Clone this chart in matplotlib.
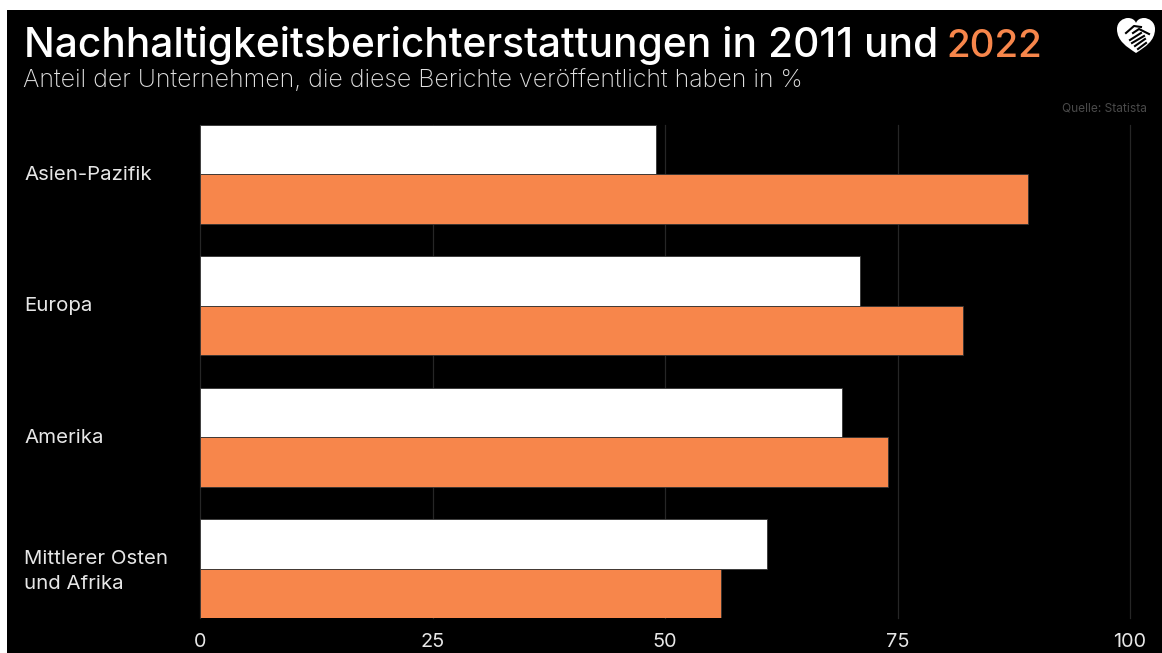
import matplotlib
matplotlib.use('Agg')
import matplotlib.pyplot as plt
from matplotlib.patches import PathPatch, Rectangle
from matplotlib.path import Path
from matplotlib.transforms import Affine2D, blended_transform_factory

regions = ['Asien-Pazifik', 'Europa', 'Amerika', 'Mittlerer Osten\nund Afrika']
values_2011 = [49, 71, 69, 61]
values_2022 = [89, 82, 74, 56]
x_ticks = [0, 25, 50, 75, 100]

W, H = 1162, 653
ORANGE = '#f7864b'
FONT = 'Inter'


def px(x, y):
    # pixel position measured from the top left, as figure fraction
    return x / W, 1 - y / H


def draw_logo(fig):
    cx, cy = 1136, H - 36
    heart = Path(
        [(0, -17), (-9, -11), (-19, -5), (-19, 7), (-19, 14), (-13, 18), (-8, 18),
         (-4, 18), (-1, 16), (0, 13), (1, 16), (4, 18), (8, 18), (13, 18), (19, 14),
         (19, 7), (19, -5), (9, -11), (0, -17), (0, -17)],
        [Path.MOVETO] + [Path.CURVE4] * 18 + [Path.CLOSEPOLY])
    fig.add_artist(PathPatch(heart, facecolor='white', edgecolor='none',
                             transform=Affine2D().translate(cx, cy)))
    # handshake strokes cut out of the heart
    strokes = [[(-10, 3), (-2, 10), (5, 9)], [(-3, 3), (3, 7), (13, 2)],
               [(-6, -4), (5, 3)], [(-4, -7), (8, 0)], [(-1, -10), (9, -3)],
               [(2, -13), (10, -7)]]
    for pts in strokes:
        xs = [p[0] + cx for p in pts]
        ys = [p[1] + cy for p in pts]
        fig.add_artist(plt.Line2D(xs, ys, color='black', lw=1.5, transform=None))


fig = plt.figure(figsize=(W / 100, H / 100), dpi=100, facecolor='white')
fig.add_artist(Rectangle(px(7, H), (W - 7) / W, (H - 10) / H, transform=fig.transFigure,
                         facecolor='black', edgecolor='none', zorder=-1))

ax = fig.add_axes([200 / W, 1 - 618 / H, (1130 - 200) / W, (618 - 125) / H])
ax.patch.set_alpha(0)

bar_h = 0.375
y_pos = list(range(len(regions)))
ax.barh([y - bar_h / 2 for y in y_pos], values_2011, height=bar_h, color='white',
        edgecolor='#333333', linewidth=0.6, zorder=3)
ax.barh([y + bar_h / 2 for y in y_pos], values_2022, height=bar_h, color=ORANGE,
        edgecolor='#333333', linewidth=0.6, zorder=3)

ax.set_xlim(0, 100)
ax.set_ylim(3 + bar_h, -bar_h)
ax.set_xticks(x_ticks)
ax.set_yticks([])
ax.tick_params(axis='x', length=0, pad=11, labelsize=14.3, labelcolor='#e6e6e6')
for lab in ax.get_xticklabels():
    lab.set_family(FONT)
ax.grid(axis='x', color='#262626', linewidth=0.9, zorder=0, clip_on=False)
ax.set_axisbelow(True)
for s in ax.spines.values():
    s.set_visible(False)

label_trans = blended_transform_factory(fig.transFigure, ax.transData)
for y, name in zip(y_pos, regions):
    # the two-line label sits a little lower than the single-line ones
    nudge = 0.023 if '\n' in name else 0.005
    ax.text(24 / W, y + nudge, name, transform=label_trans, ha='left', va='center',
            family=FONT, fontsize=14.7, color='#e6e6e6', linespacing=1.5)

fig.text(*px(24, 57), 'Nachhaltigkeitsberichterstattungen in 2011 und',
         family=FONT, fontsize=29.3, color='white', va='baseline', fontweight='medium')
fig.text(946 / W, 1 - 57 / H, '2022', family=FONT, fontsize=27.8, color=ORANGE,
         va='baseline', fontweight='medium')
fig.text(*px(23, 87), 'Anteil der Unternehmen, die diese Berichte veröffentlicht haben in %',
         family=FONT, fontsize=17.95, color='#e0e0e0', va='baseline', fontweight='light')
fig.text(*px(1147, 111), 'Quelle: Statista', family=FONT, fontsize=8.6, color='#4a4a4a',
         ha='right', va='baseline')

draw_logo(fig)

fig.savefig('out.png', dpi=100, facecolor=fig.get_facecolor())
